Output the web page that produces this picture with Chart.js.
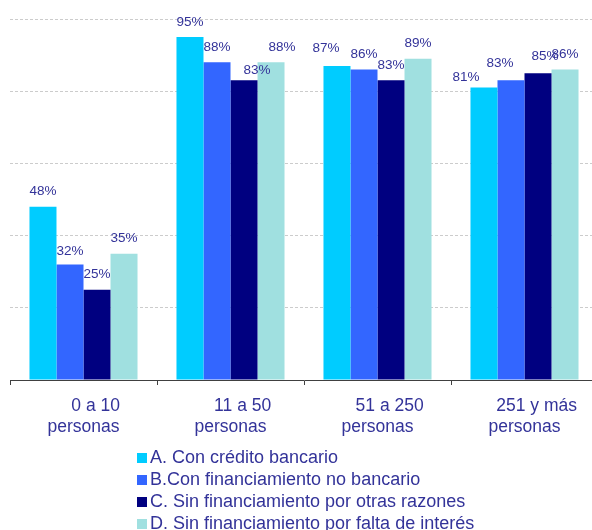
<!DOCTYPE html>
<html>
<head>
<meta charset="utf-8">
<script src="https://cdn.jsdelivr.net/npm/chart.js@4"></script>
<style>
  html, body { margin: 0; padding: 0; background: #fff; overflow: hidden; }
  #wrap { position: relative; width: 600px; height: 530px; }
  #leyenda {
    position: absolute; left: 137px; top: 446px;
    font-family: "Liberation Sans", Arial, sans-serif; font-size: 18px; color: #333399;
  }
  #leyenda div { height: 22px; line-height: 22px; white-space: nowrap; }
  #leyenda span.caja { display: inline-block; width: 10px; height: 10px; margin-right: 3px; vertical-align: 0px; }
</style>
</head>
<body>
<div id="wrap">
  <canvas id="grafico" width="600" height="453"></canvas>
  <div id="leyenda"></div>
</div>
<script>
// Tamaño de empresa (los espacios iniciales desplazan la primera línea como en el original)
const categorias = [
  ['     0 a 10', 'personas'],
  ['     11 a 50', 'personas'],
  ['     51 a 250', 'personas'],
  ['     251 y más', 'personas']
];

const nombres = [
  'A. Con  crédito bancario',
  'B.Con financiamiento no bancario',
  'C. Sin financiamiento por otras razones',
  'D. Sin financiamiento por falta de interés'
];

// Porcentajes por serie
const conCredito = [48, 95, 87, 81];
const financNoBancario = [32, 88, 86, 83];
const otrasRazones = [25, 83, 83, 85];
const faltaInteres = [35, 88, 89, 86];

const colores = ['#00CCFF', '#3366FF', '#000080', '#A0E0E0'];
const series = [conCredito, financNoBancario, otrasRazones, faltaInteres];

// Etiquetas de valor sobre cada barra
const etiquetasPlugin = {
  id: 'etiquetas',
  afterDatasetsDraw(chart, args, opts) {
    const ctx = chart.ctx;
    ctx.save();
    ctx.font = '13.5px "Liberation Sans", Arial, sans-serif';
    ctx.fillStyle = '#333399';
    ctx.textAlign = 'center';
    ctx.textBaseline = 'middle';
    chart.data.datasets.forEach((ds, i) => {
      chart.getDatasetMeta(i).data.forEach((bar, j) => {
        const n = (opts.ajustes[i] && opts.ajustes[i][j]) || [0, 0];
        ctx.fillText(ds.data[j] + '%', bar.x + n[0], bar.y - 15 + n[1]);
      });
    });
    ctx.restore();
  }
};

const chart = new Chart(document.getElementById('grafico'), {
  type: 'bar',
  data: {
    labels: categorias,
    datasets: series.map((s, i) => ({
      label: nombres[i],
      data: s,
      backgroundColor: colores[i],
      borderWidth: 0,
      barPercentage: 1,
      categoryPercentage: 0.735
    }))
  },
  options: {
    responsive: false,
    animation: false,
    layout: { padding: { left: 10, right: 2, top: 19, bottom: 4 } },
    scales: {
      x: {
        grid: {
          display: true,
          drawOnChartArea: false,
          drawTicks: true,
          tickLength: 5,
          offset: true,
          color: '#404040'
        },
        border: { display: true, color: '#404040', width: 1 },
        ticks: {
          color: '#333399',
          padding: 11,
          maxRotation: 0,
          font: { family: '"Liberation Sans", Arial, sans-serif', size: 17.5, lineHeight: 1.2 }
        }
      },
      y: {
        min: 0,
        max: 100,
        ticks: { display: false, stepSize: 20 },
        border: { display: false, dash: [3, 2] },
        grid: { color: '#CCCCCC', drawTicks: false, lineWidth: 1 }
      }
    },
    plugins: {
      legend: { display: false },
      tooltip: { enabled: false },
      etiquetas: {
        ajustes: [
          [[0, 0], [0, 0], [-11, -3], [-18, 5]],
          [[0, 2], [0, 0], [0, 0], [-11, -2]],
          [[0, 0], [13, 5], [0, 0], [7, -2]],
          [[0, 0], [11, 0], [0, 0], [0, 0]]
        ]
      }
    }
  },
  plugins: [etiquetasPlugin]
});

// Leyenda vertical debajo del gráfico
const leyenda = document.getElementById('leyenda');
chart.data.datasets.forEach(ds => {
  const fila = document.createElement('div');
  const caja = document.createElement('span');
  caja.className = 'caja';
  caja.style.background = ds.backgroundColor;
  fila.appendChild(caja);
  fila.appendChild(document.createTextNode(ds.label));
  leyenda.appendChild(fila);
});
</script>
</body>
</html>
